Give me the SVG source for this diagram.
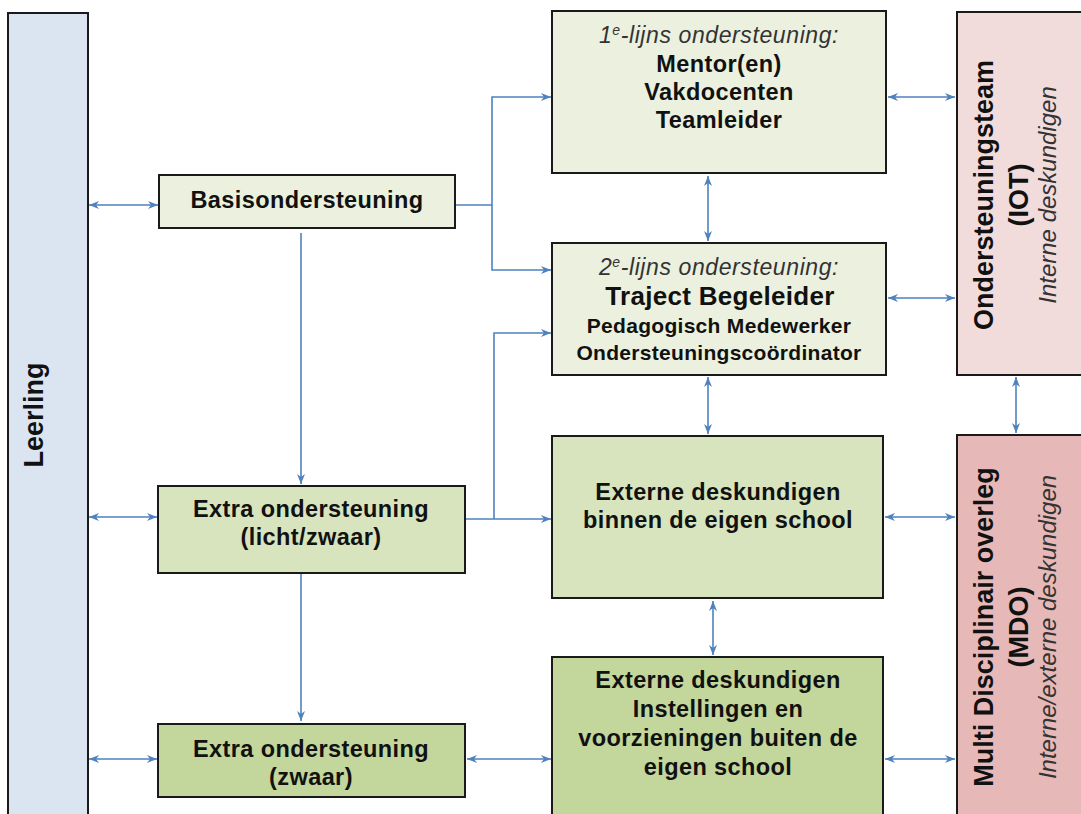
<svg xmlns="http://www.w3.org/2000/svg" width="1081" height="814" viewBox="0 0 1081 814">
<style>
.box{stroke:#1a1a1a;stroke-width:2}
.t{font-family:"Liberation Sans",Arial,sans-serif;fill:#111;text-anchor:middle}
.b22{font-size:23.5px;font-weight:bold;letter-spacing:0.4px}
.b20{font-size:21px;font-weight:bold;letter-spacing:0.3px}
.b25{font-size:26px;font-weight:bold;letter-spacing:0.3px}
.i22{font-size:23px;font-style:italic;fill:#333;letter-spacing:0.6px}
.v27{font-size:27px;font-weight:bold}
.vi24{font-size:24px;font-style:italic;fill:#333}
.c{fill:none;stroke:#4f81bd;stroke-width:1.6}
.a{marker-end:url(#ah)}
.d{marker-start:url(#ah);marker-end:url(#ah)}
</style>
<defs>
<marker id="ah" viewBox="0 0 10 8" refX="10" refY="4" markerWidth="10" markerHeight="8" markerUnits="userSpaceOnUse" orient="auto-start-reverse">
<path d="M0,0 L10,4 L0,8 L3,4 z" fill="#4f81bd"/>
</marker>
</defs>
<rect width="1081" height="814" fill="#ffffff"/>

<g id="connectors">
<path class="c d" d="M89,205 H158"/>
<path class="c d" d="M89,517 H157"/>
<path class="c d" d="M89,759 H157"/>
<path class="c" d="M455,205 H492"/>
<path class="c a" d="M492,205 V97 H551"/>
<path class="c a" d="M492,205 V270 H551"/>
<path class="c a" d="M301,233 V484"/>
<path class="c a" d="M301,573 V721"/>
<path class="c a" d="M465,519 H551"/>
<path class="c a" d="M494,519 V333 H551"/>
<path class="c d" d="M708,176 V241"/>
<path class="c d" d="M708,377 V434"/>
<path class="c d" d="M713,601 V655"/>
<path class="c d" d="M888,97 H955"/>
<path class="c d" d="M888,298 H955"/>
<path class="c d" d="M885,517 H955"/>
<path class="c d" d="M885,759 H955"/>
<path class="c d" d="M467,759 H551"/>
<path class="c d" d="M1016,377 V433"/>
</g>

<g id="leerling">
<rect class="box" x="8" y="13" width="80" height="820" fill="#dbe5f1"/>
<text class="t v27" x="43" y="415" transform="rotate(-90 43 415)">Leerling</text>
</g>

<g id="basisondersteuning">
<rect class="box" x="159" y="175" width="296" height="53" fill="#ebf1de"/>
<text class="t b22" x="307" y="208">Basisondersteuning</text>
</g>

<g id="extra-licht">
<rect class="box" x="158" y="486" width="307" height="87" fill="#d7e4bd"/>
<text class="t b22" x="311" y="517">Extra ondersteuning</text>
<text class="t b22" x="311" y="545">(licht/zwaar)</text>
</g>

<g id="extra-zwaar">
<rect class="box" x="158" y="724" width="307" height="73" fill="#c3d69b"/>
<text class="t b22" x="311" y="757">Extra ondersteuning</text>
<text class="t b22" x="311" y="785">(zwaar)</text>
</g>

<g id="eerstelijns">
<rect class="box" x="552" y="11" width="334" height="162" fill="#ebf1de"/>
<text class="t i22" x="719" y="43">1<tspan font-size="14" dy="-8">e</tspan><tspan dy="8">-lijns ondersteuning:</tspan></text>
<text class="t b22" x="719" y="72">Mentor(en)</text>
<text class="t b22" x="719" y="100">Vakdocenten</text>
<text class="t b22" x="719" y="128">Teamleider</text>
</g>

<g id="tweedelijns">
<rect class="box" x="552" y="243" width="334" height="132" fill="#ebf1de"/>
<text class="t i22" x="719" y="275">2<tspan font-size="14" dy="-8">e</tspan><tspan dy="8">-lijns ondersteuning:</tspan></text>
<text class="t b25" x="720" y="305">Traject Begeleider</text>
<text class="t b20" x="719" y="333">Pedagogisch Medewerker</text>
<text class="t b20" x="719" y="360">Ondersteuningscoördinator</text>
</g>

<g id="externe-binnen">
<rect class="box" x="552" y="436" width="331" height="162" fill="#d7e4bd"/>
<text class="t b22" x="718" y="500">Externe deskundigen</text>
<text class="t b22" x="718" y="528">binnen de eigen school</text>
</g>

<g id="externe-buiten">
<rect class="box" x="552" y="657" width="331" height="170" fill="#c3d69b"/>
<text class="t b22" x="718" y="688">Externe deskundigen</text>
<text class="t b22" x="718" y="717">Instellingen en</text>
<text class="t b22" x="718" y="746">voorzieningen buiten de</text>
<text class="t b22" x="718" y="775">eigen school</text>
</g>

<g id="iot">
<rect class="box" x="957" y="12" width="140" height="363" fill="#f2dcdb"/>
<text class="t v27" x="993" y="195" transform="rotate(-90 993 195)">Ondersteuningsteam</text>
<text class="t v27" x="1028" y="195" transform="rotate(-90 1028 195)">(IOT)</text>
<text class="t vi24" x="1056" y="195" transform="rotate(-90 1056 195)">Interne deskundigen</text>
</g>

<g id="mdo">
<rect class="box" x="957" y="435" width="140" height="400" fill="#e6b9b8"/>
<text class="t v27" x="993" y="627" transform="rotate(-90 993 627)">Multi Disciplinair overleg</text>
<text class="t v27" x="1028" y="627" transform="rotate(-90 1028 627)">(MDO)</text>
<text class="t vi24" x="1056" y="627" transform="rotate(-90 1056 627)">Interne/externe deskundigen</text>
</g>
</svg>
